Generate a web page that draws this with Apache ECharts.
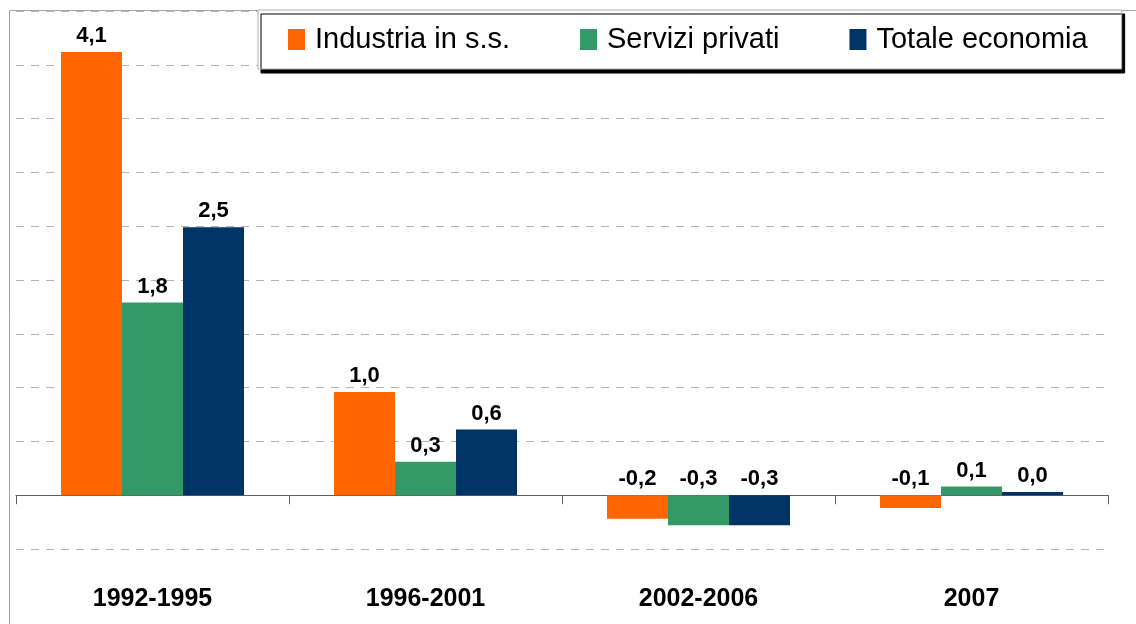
<!DOCTYPE html>
<html>
<head>
<meta charset="utf-8">
<script src="https://cdn.jsdelivr.net/npm/echarts@6.0.0/dist/echarts.min.js"></script>
<style>
  html, body { margin: 0; padding: 0; background: #fff; }
  #chart { width: 1136px; height: 624px; }
</style>
</head>
<body>
<div id="chart"></div>
<script>
  // periods on the x axis
  const periods = ["1992-1995", "1996-2001", "2002-2006", "2007"];

  // values (labels round to one decimal)
  const industria = [4.12, 0.96, -0.22, -0.12];
  const servizi = [1.79, 0.31, -0.28, 0.08];
  const totale = [2.49, 0.61, -0.28, 0.03];

  const seriesNames = ["Industria in s.s.", "Servizi privati", "Totale economia"];
  const colors = ["#FF6600", "#339966", "#003366"];

  const font = "'Liberation Sans', Arial, sans-serif";

  const chart = echarts.init(document.getElementById("chart"));

  function makeSeries(name, data, color) {
    return {
      name: name,
      type: "bar",
      data: data,
      barWidth: 61,
      barGap: "0%",
      itemStyle: { color: color },
      label: {
        show: true,
        position: "top",
        distance: 5,
        color: "#000",
        fontFamily: font,
        fontWeight: "bold",
        fontSize: 22,
        formatter: (p) => p.value.toFixed(1).replace(".", ",")
      }
    };
  }

  chart.setOption({
    animation: false,
    backgroundColor: "#fff",
    color: colors,
    graphic: [{
      type: "rect",
      shape: { x: 9.5, y: 10.5, width: 1300, height: 800 },
      style: { fill: "none", stroke: "#a6a6a6", lineWidth: 1 },
      z: -1
    }],
    grid: { left: 16, right: 28, top: 11, bottom: 75, containLabel: false, outerBoundsMode: "none" },
    legend: {
      data: seriesNames,
      left: 258,
      top: 10,
      orient: "horizontal",
      padding: [15, 34, 15, 30],
      itemGap: 70,
      itemWidth: 17,
      itemHeight: 21,
      icon: "rect",
      backgroundColor: "#fff",
      borderColor: "#b0b0b0",
      borderWidth: 1,
      shadowColor: "#000",
      shadowBlur: 0,
      shadowOffsetX: 3,
      shadowOffsetY: 4,
      textStyle: { fontFamily: font, fontSize: 29, color: "#000", padding: [0, 0, 0, 5] }
    },
    xAxis: {
      type: "category",
      data: periods,
      axisLine: { show: true, onZero: true, lineStyle: { color: "#606060", width: 1 } },
      axisTick: { show: true, length: 9, lineStyle: { color: "#606060" } },
      axisLabel: {
        margin: 38,
        color: "#000",
        fontFamily: font,
        fontWeight: "bold",
        fontSize: 25
      },
      splitLine: { show: false }
    },
    yAxis: {
      type: "value",
      min: -0.5,
      max: 4.5,
      interval: 0.5,
      axisLine: { show: false },
      axisTick: { show: false },
      axisLabel: { show: false },
      splitLine: { lineStyle: { color: "#b4b4b4", type: [8, 7], width: 1 } }
    },
    series: [
      makeSeries(seriesNames[0], industria, colors[0]),
      makeSeries(seriesNames[1], servizi, colors[1]),
      makeSeries(seriesNames[2], totale, colors[2])
    ]
  });
</script>
</body>
</html>
